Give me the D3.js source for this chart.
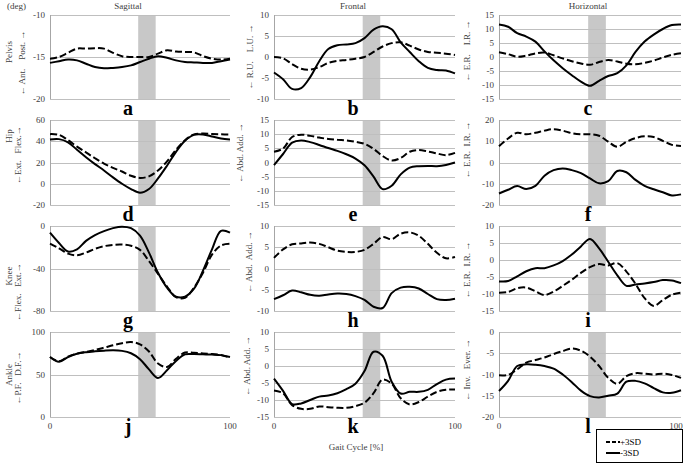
<!DOCTYPE html>
<html><head><meta charset="utf-8">
<script src="https://cdn.jsdelivr.net/npm/d3@7"></script>
<style>
body{margin:0;background:#fff;}
svg text{font-family:"Liberation Serif","Times New Roman",serif;}
</style></head>
<body><svg id="chart" width="685" height="465"></svg>
<script>
// ---------- data ----------
const gait = [0,5,10,15,20,25,30,35,40,45,50,55,60,65,70,75,80,85,90,95,100];
const planes = ["Sagittal","Frontal","Horizontal"];
const joints = ["Pelvis","Hip","Knee","Ankle"];
const letters = ["a","b","c","d","e","f","g","h","i","j","k","l"];
const dirLabels = ["← Ant.    Post. →","← R.U.    L.U. →","← E.R.    I.R. →",
                   "←Ext.   Flex.→","← Abd. Add. →","← E.R.  I.R. →",
                   "←Flex.   Ext.→","← Abd.  Add. →","← E.R.  I.R. →",
                   "←P.F.   D.F.→","← Abd. Add. →","← Inv.   Ever. →"];
const yDomains = [[-20,-10],[-10,10],[-15,15],[-20,60],[-15,15],[-20,20],[-80,0],[-10,10],[-15,10],[0,100],[-15,10],[-20,0]];
const yTicks = [[-20,-15,-10],[-10,-5,0,5,10],[-15,-10,-5,0,5,10,15],[-20,0,20,40,60],[-15,-10,-5,0,5,10,15],[-20,-10,0,10,20],
                [-80,-40,0],[-10,-5,0,5,10],[-15,-10,-5,0,5,10],[0,50,100],[-15,-10,-5,0,5,10],[-20,-15,-10,-5,0]];
const xTickLabels = ["0","100"];
const legendLabels = ["+3SD","-3SD"];
const stancePhase = [49,58.7];

// +3SD (dashed) and -3SD (solid) series
const plusA  = [-15.2,-15.0,-14.5,-14.0,-14.0,-13.95,-14.0,-14.5,-14.9,-15.0,-15.0,-15.0,-14.6,-14.2,-14.35,-14.4,-14.45,-14.9,-15.2,-15.3,-15.2];
const minusA = [-15.7,-15.5,-15.3,-15.4,-15.8,-16.2,-16.35,-16.3,-16.2,-16.0,-15.6,-15.2,-14.9,-15.1,-15.4,-15.6,-15.65,-15.7,-15.7,-15.5,-15.3];
const plusB  = [0,-0.3,-1.7,-2.8,-3.0,-2.4,-1.4,-0.9,-0.7,-0.4,0.0,1.2,2.5,3.3,3.5,2.7,1.8,1.2,1.0,0.8,0.5];
const minusB = [-3.7,-5.3,-7.6,-7.4,-4.8,-1.0,1.9,2.8,3.0,3.3,4.5,6.5,7.3,6.6,3.5,1.2,-1.0,-2.6,-3.1,-3.2,-3.9];
const plusC  = [1.7,1.0,0.1,0.5,1.3,1.6,0.6,-0.5,-1.5,-2.3,-2.8,-1.8,-1.1,-1.6,-2.4,-2.6,-2.1,-1.3,-0.2,0.8,1.3];
const minusC = [11.6,10.8,8.5,7.3,5.5,2.0,-1.2,-4.0,-6.5,-8.8,-10.3,-8.5,-6.8,-5.8,-3.0,1.8,5.5,8.0,10.0,11.4,11.6];
const plusD  = [46.7,46,41,35,29.5,24,19,15,11.5,7.5,5.5,7,12.5,21,32,41,46.5,47.2,46.8,46.5,46.4];
const minusD = [41.7,42,39,32,25,18.5,12.5,6,0,-5,-8.5,-5,5,17,30,40.5,46,46.3,44.5,42.5,41.7];
const plusE  = [3.8,4.9,9,9.8,9.4,8.8,8.3,8.0,7.8,7.3,6.6,4.8,2.3,0.7,1.6,3.8,4.4,3.9,3.2,2.6,3.4];
const minusE = [-0.9,3,7,7.8,7.2,6.2,5.1,4.1,2.9,1.4,-1,-5,-9.4,-8.2,-4.2,-1.8,-1.3,-1.2,-1.3,-0.9,0];
const plusF  = [7.7,11.3,14,13.3,14,15,15.7,15,13.8,13.3,13.3,12.6,9.8,7.4,9.7,11.5,12.3,12,10.2,8.3,7.8];
const minusF = [-14.6,-12.8,-11.1,-12.5,-11,-6.2,-3.6,-2.8,-3.6,-5,-7.5,-9.8,-8.8,-4,-4.6,-8.2,-11,-12.6,-14,-15.5,-15];
const plusG  = [-16.5,-21,-26,-27.6,-25,-21.5,-19,-17.8,-17.5,-18.6,-22.5,-33,-45,-57,-67,-67.5,-58,-44,-27,-18.3,-16.8];
const minusG = [-6.3,-16,-24,-22,-14,-8.5,-4.8,-2,-0.6,-2,-9,-25,-44,-58,-66.5,-66.5,-59,-42,-22,-4.5,-6.3];
const plusH  = [2.5,4.5,5.7,5.9,6.1,5.8,5.0,4.2,3.9,3.9,4.4,5.8,7.4,6.9,8.2,8.5,7.7,5.8,3.7,2.4,2.7];
const minusH = [-7.2,-6.3,-5.2,-5.6,-6.2,-6.4,-6.1,-5.9,-6,-6.5,-7.4,-9.0,-9.3,-5.8,-4.5,-4.3,-4.7,-6,-7.2,-7.4,-7.1];
const plusI  = [-9.6,-9.4,-8.3,-8.1,-9.2,-10.3,-9.3,-7.6,-5.8,-3.8,-2.1,-1.2,-1.6,-0.9,-3.4,-7.0,-11.2,-13.5,-11.8,-10.2,-9.6];
const minusI = [-6.3,-6.2,-4.8,-3.3,-2.4,-2.4,-1.6,-0.3,1.6,4.0,6.2,3.4,-0.5,-4.5,-7.6,-7.2,-6.9,-6.5,-5.9,-6.0,-6.8];
const plusJ  = [70.6,65.5,71,74.5,76.5,78.8,81.5,84.3,86.8,88.2,85.5,77,63,58.8,68.5,75.8,75.5,74.8,74,73,69.8];
const minusJ = [70.6,65,70.5,74.5,76.3,77.3,78,78.4,77.8,75,68,56,46,55,66,73.7,74,73.7,73.4,72.8,70.6];
const plusK  = [-7.2,-8,-11.5,-12.6,-12.6,-11.9,-12.1,-12.3,-12.3,-11.8,-10.8,-8,-4,-5.2,-9.5,-11.3,-10.6,-9,-7.6,-7,-6.9];
const minusK = [-3.7,-7.3,-11.2,-11.0,-10,-9.0,-8.7,-8,-6.8,-5.2,-1.5,4.2,3.0,-4.6,-8.1,-7.6,-7.6,-7,-5.3,-4,-3.7];
const plusL  = [-10.2,-10.1,-8.8,-7.2,-6.6,-6.0,-5.2,-4.5,-3.9,-4.4,-5.8,-8.0,-10.8,-12.2,-10.4,-9.7,-9.8,-10.0,-9.8,-10.1,-10.8];
const minusL = [-13.9,-11.5,-8.0,-7.6,-7.7,-8.0,-8.6,-10,-11.8,-13.8,-15.1,-15.4,-15,-14.5,-11.7,-11.5,-12.1,-13.2,-14.2,-14.3,-13.7];

const plusSeries  = [plusA,plusB,plusC,plusD,plusE,plusF,plusG,plusH,plusI,plusJ,plusK,plusL];
const minusSeries = [minusA,minusB,minusC,minusD,minusE,minusF,minusG,minusH,minusI,minusJ,minusK,minusL];

// ---------- layout ----------
const colLeft  = [50,274,499];
const colRight = [230,455,681];
const rowTop   = [15,120,226,332];
const rowBot   = [99,205,311,417];
const centerX  = [128,353,588];
const jointX   = [9,9,9,9];
const jointY   = [52,136,276,375];
const dirX     = [[22,250,467],[18,240,467],[18,249,467],[18,247,467]];
const dirY     = [[63,57,51],[155,153,150],[292,262,270],[378,366,370]];

const svg = d3.select("#chart");
const gridColor = "#bfbfbf";
const textColor = "#404040";

svg.append("text").attr("x",7).attr("y",9).attr("font-size",9).attr("fill",textColor).text("(deg)");
planes.forEach((p,c)=>{
  svg.append("text").attr("x",centerX[c]).attr("y",9).attr("text-anchor","middle")
    .attr("font-size",9).attr("fill",textColor).text(p);
});

const line = (x,y)=> d3.line().x((d,i)=>x(gait[i])).y(d=>y(d)).curve(d3.curveCatmullRom.alpha(0.5));

for(let r=0;r<4;r++){
  // joint label
  svg.append("text").attr("transform",`translate(${jointX[r]},${jointY[r]}) rotate(-90)`)
    .attr("text-anchor","middle").attr("dominant-baseline","central")
    .attr("font-size",9).attr("fill",textColor).text(joints[r]);
  for(let c=0;c<3;c++){
    const k = r*3+c;
    const x = d3.scaleLinear().domain([0,100]).range([colLeft[c],colRight[c]]);
    const y = d3.scaleLinear().domain(yDomains[k]).range([rowBot[r],rowTop[r]]);
    const g = svg.append("g");
    // stance shading
    g.append("rect").attr("x",x(stancePhase[0])).attr("y",rowTop[r])
      .attr("width",x(stancePhase[1])-x(stancePhase[0])).attr("height",rowBot[r]-rowTop[r])
      .attr("fill","#c8c8c8");
    // grid
    g.selectAll("line.grid").data(yTicks[k]).join("line")
      .attr("x1",colLeft[c]).attr("x2",colRight[c])
      .attr("y1",d=>Math.round(y(d))+0.5).attr("y2",d=>Math.round(y(d))+0.5)
      .attr("stroke",gridColor).attr("stroke-width",1);
    // left axis
    g.append("line").attr("x1",colLeft[c]+0.5).attr("x2",colLeft[c]+0.5)
      .attr("y1",rowTop[r]).attr("y2",rowBot[r]).attr("stroke","#a6a6a6");
    // y tick labels
    g.selectAll("text.tick").data(yTicks[k]).join("text")
      .attr("x",colLeft[c]-5).attr("y",d=>y(d)).attr("dy","0.35em")
      .attr("text-anchor","end").attr("font-size",9).attr("fill",textColor).text(d=>d);
    // x tick labels on bottom row
    if(r===3){
      g.selectAll("text.xt").data([0,100]).join("text")
        .attr("x",d=>Math.min(x(d),676)).attr("y",rowBot[r]+12).attr("text-anchor","middle")
        .attr("font-size",9).attr("fill",textColor).text((d,i)=>xTickLabels[i]);
    }
    // curves
    g.append("path").attr("d",line(x,y)(plusSeries[k])).attr("fill","none")
      .attr("stroke","#000").attr("stroke-width",2).attr("stroke-dasharray","7,3");
    g.append("path").attr("d",line(x,y)(minusSeries[k])).attr("fill","none")
      .attr("stroke","#000").attr("stroke-width",2);
    // direction label
    svg.append("text").attr("transform",`translate(${dirX[r][c]},${dirY[r][c]}) rotate(-90)`)
      .attr("text-anchor","middle").attr("dominant-baseline","central")
      .style("white-space","pre").attr("font-size",9).attr("fill",textColor).text(dirLabels[k]);
    // panel letter
    svg.append("text").attr("x",centerX[c]).attr("y",rowBot[r]+16).attr("text-anchor","middle")
      .attr("font-size",20).attr("font-weight","bold").attr("fill","#000").text(letters[k]);
  }
}

svg.append("text").attr("x",356).attr("y",450).attr("text-anchor","middle")
  .attr("font-size",9).attr("fill",textColor).text("Gait Cycle [%]");

// legend
const lg = svg.append("g");
lg.append("rect").attr("x",596.5).attr("y",429.5).attr("width",86).attr("height",33)
  .attr("fill","#fff").attr("stroke","#000");
legendLabels.forEach((t,i)=>{
  const yy = 442 + i*11;
  lg.append("line").attr("x1",606).attr("x2",620).attr("y1",yy).attr("y2",yy)
    .attr("stroke","#000").attr("stroke-width",2).attr("stroke-dasharray",i===0?"4,2":null);
  lg.append("text").attr("x",620).attr("y",yy).attr("dy","0.35em")
    .attr("font-size",9).attr("fill","#000").text(t);
});
</script></body></html>
